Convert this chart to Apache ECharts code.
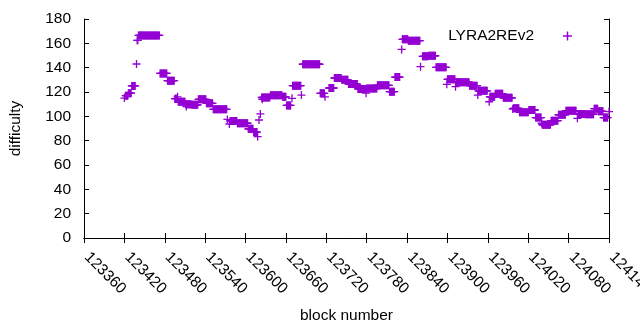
<!DOCTYPE html>
<html>
<head>
<meta charset="utf-8">
<script src="https://cdn.jsdelivr.net/npm/echarts@6/dist/echarts.min.js"></script>
<style>
  html, body { margin: 0; padding: 0; background: #fff; }
  #main { width: 640px; height: 330px; }
</style>
</head>
<body>
<div id="main"></div>
<script>
// difficulty holds steady over runs of blocks: first block, last block, value
const stepStart = [123420, 123422, 123426, 123431, 123438, 123439, 123441, 123473, 123484, 123495,
  123499, 123500, 123511, 123512, 123520, 123530, 123542, 123552, 123573, 123576,
  123577, 123588, 123604, 123612, 123618, 123620, 123622, 123624, 123625, 123637,
  123655, 123661, 123669, 123670, 123683, 123685, 123711, 123718, 123724, 123732,
  123743, 123753, 123767, 123779, 123780, 123796, 123814, 123822, 123832, 123833,
  123842, 123860, 123863, 123872, 123883, 123899, 123900, 123912, 123913, 123933,
  123945, 123946, 123962, 123963, 123971, 123983, 123997, 123998, 124007, 124021,
  124031, 124040, 124041, 124054, 124065, 124076, 124093, 124094, 124105, 124118,
  124124, 124132, 124140];
const stepEnd = [123420, 123425, 123430, 123436, 123438, 123440, 123472, 123483, 123494, 123498,
  123499, 123510, 123519, 123512, 123529, 123541, 123551, 123572, 123573, 123576,
  123587, 123603, 123611, 123617, 123618, 123620, 123622, 123636, 123625, 123654,
  123660, 123667, 123669, 123682, 123683, 123710, 123717, 123718, 123731, 123742,
  123752, 123766, 123778, 123779, 123795, 123813, 123821, 123829, 123832, 123841,
  123859, 123860, 123871, 123882, 123898, 123899, 123911, 123912, 123932, 123944,
  123945, 123959, 123962, 123970, 123982, 123996, 123997, 124006, 124020, 124030,
  124039, 124040, 124053, 124064, 124075, 124091, 124093, 124104, 124117, 124123,
  124131, 124138, 124140];
const stepDifficulty = [115, 117, 119, 125, 143, 162.5, 166.5, 135.3, 129.3, 114.5,
  116, 112, 110, 108, 109.5, 114, 110.7, 105.8, 97.5, 93.7,
  96.2, 94.3, 89.7, 87.1, 83.3, 97, 102, 115.5, 114, 117.3,
  116, 109, 114.8, 125.2, 117.5, 142.8, 118.9, 116, 123.3, 131.5,
  130, 126.5, 122.5, 119, 122.8, 125.5, 120.3, 132.3, 155, 163.3,
  162.2, 140.8, 149.3, 149.8, 140.3, 126.3, 130.4, 124.4, 128, 125.2,
  117.5, 121, 112, 116.1, 118.5, 115.2, 106, 106.6, 103.3, 105.2,
  99, 94.3, 93.1, 96.4, 101.3, 104.6, 98.4, 101.9, 101.7, 106.3,
  104.1, 99, 103.8];

const seriesName = 'LYRA2REv2';
const xTicks = { min: 123360, max: 124140, step: 60 };
const yTicks = { min: 0, max: 180, step: 20 };

// one point per block inside each step
const points = [];
stepStart.forEach(function (s, i) {
  for (let b = s; b <= stepEnd[i]; b++) points.push([b, stepDifficulty[i]]);
});

const plus = 'path://M0,3.35H8V4.65H0Z M3.35,0H4.65V8H3.35Z';
const font = 'Liberation Sans, Arial, sans-serif';
const line = { show: true, lineStyle: { color: '#000', width: 1 } };
const tick = { show: true, inside: true, length: 5, lineStyle: { color: '#000' } };

let myChart = echarts.init(document.getElementById('main'), null, { renderer: 'canvas' });

let option = {
  animation: false,
  backgroundColor: '#fff',
  textStyle: { fontFamily: font },
  grid: { left: 84, right: 31, top: 19, bottom: 92, containLabel: false, outerBoundsMode: 'none' },
  legend: {
    data: [seriesName],
    right: 63,
    top: 23,
    align: 'right',
    icon: plus,
    itemWidth: 9,
    itemHeight: 9,
    textStyle: { fontFamily: font, fontSize: 15.5, color: '#000', padding: [0, 24, 0, 0] }
  },
  xAxis: [{
    type: 'value',
    min: xTicks.min, max: xTicks.max, interval: xTicks.step,
    name: 'block number',
    nameLocation: 'middle',
    nameGap: 70,
    nameTextStyle: { fontFamily: font, fontSize: 15.5, color: '#000' },
    axisLine: line, axisTick: tick,
    axisLabel: {
      rotate: -45, margin: 14, padding: [0, 0, 0, 4],
      fontFamily: font, fontSize: 15.5, color: '#000',
      showMaxLabel: true, hideOverlap: false,
      formatter: function (v) { return String(v); }
    },
    splitLine: { show: false }
  }, {
    type: 'value', position: 'top',
    min: xTicks.min, max: xTicks.max, interval: xTicks.step,
    axisLine: line, axisTick: tick, axisLabel: { show: false }, splitLine: { show: false }
  }],
  yAxis: [{
    type: 'value',
    min: yTicks.min, max: yTicks.max, interval: yTicks.step,
    name: 'difficulty',
    nameLocation: 'middle',
    nameGap: 60,
    nameTextStyle: { fontFamily: font, fontSize: 15.5, color: '#000' },
    axisLine: line, axisTick: tick,
    axisLabel: { margin: 13, fontFamily: font, fontSize: 15.5, color: '#000' },
    splitLine: { show: false }
  }, {
    type: 'value', position: 'right',
    min: yTicks.min, max: yTicks.max, interval: yTicks.step,
    axisLine: line, axisTick: tick, axisLabel: { show: false }, splitLine: { show: false }
  }],
  series: [{
    name: seriesName,
    type: 'scatter',
    symbol: plus,
    symbolSize: 8,
    itemStyle: { color: '#9400d3', opacity: 1 },
    data: points
  }]
};

myChart.setOption(option);
</script>
</body>
</html>
